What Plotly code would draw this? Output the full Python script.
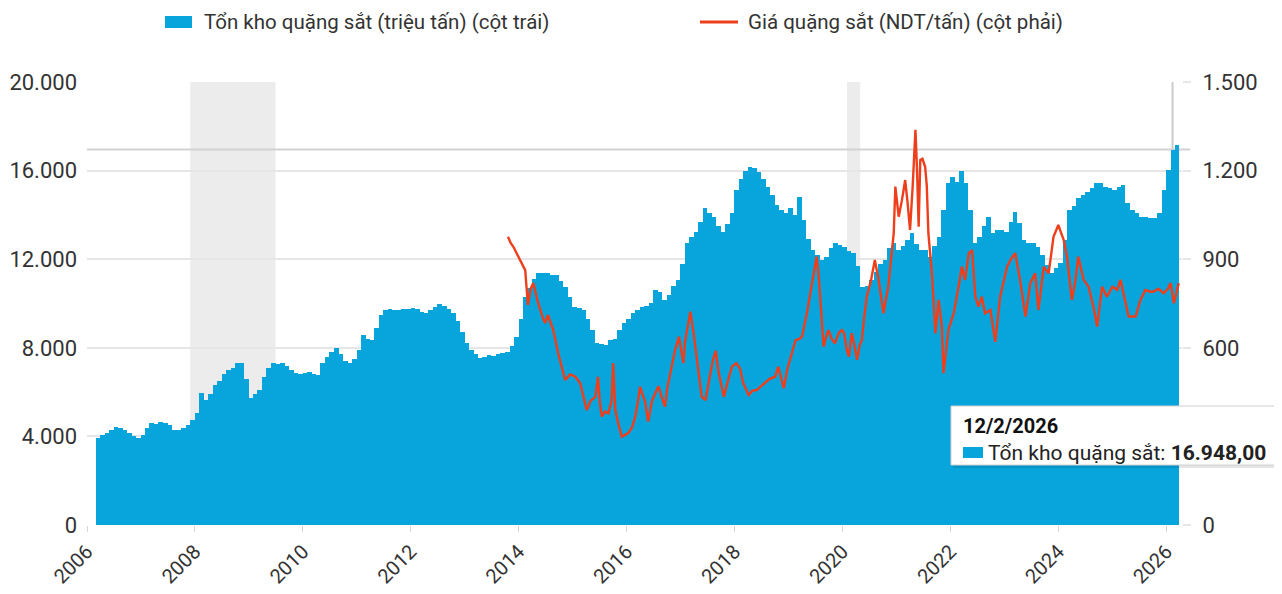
import pandas as pd
import plotly.graph_objects as go

# ---------------- DATA ----------------
# Monthly iron-ore port inventory (left axis), Mar-2006 .. Mar-2026
inv_2006 = [3950, 4050, 4150, 4300, 4440, 4400, 4300, 4150, 4000, 3930]  # Mar-Dec
inv_2007 = [4050, 4400, 4600, 4550, 4660, 4600, 4500, 4300, 4300, 4400, 4510, 4750]
inv_2008 = [5050, 5950, 5640, 5900, 6300, 6500, 6800, 7000, 7100, 7300, 7330, 6600]
inv_2009 = [5730, 5900, 6100, 6700, 7100, 7300, 7250, 7330, 7200, 7000, 6850, 6810]
inv_2010 = [6850, 6920, 6800, 6770, 7310, 7600, 7800, 7990, 7700, 7400, 7310, 7500]
inv_2011 = [7900, 8580, 8400, 8350, 8900, 9500, 9700, 9750, 9700, 9700, 9750, 9750]
inv_2012 = [9800, 9750, 9600, 9570, 9700, 9850, 9980, 9900, 9750, 9570, 9200, 8700]
inv_2013 = [8220, 7900, 7700, 7540, 7600, 7680, 7650, 7700, 7750, 7830, 8100, 8500]
inv_2014 = [9300, 10310, 10700, 11100, 11390, 11390, 11390, 11300, 11290, 11000, 10760, 10300]
inv_2015 = [9860, 9800, 9710, 9300, 8800, 8220, 8150, 8130, 8350, 8400, 8800, 9120]
inv_2016 = [9300, 9570, 9700, 9860, 9900, 10020, 10610, 10500, 10160, 10400, 10800, 11060]
inv_2017 = [11800, 12730, 13000, 13240, 13700, 14300, 14100, 13920, 13500, 13240, 13600, 14070]
inv_2018 = [15120, 15600, 16000, 16180, 16100, 15950, 15600, 15270, 14900, 14450, 14200, 14070]
inv_2019 = [14300, 14000, 14820, 13770, 12900, 12420, 12200, 11960, 12110, 12500, 12730, 12650]
inv_2020 = [12560, 12350, 12270, 11700, 10760, 10800, 11060, 11400, 11800, 11960, 12500, 12730]
inv_2021 = [12420, 12600, 12870, 13180, 12700, 12400, 12420, 12110, 12600, 13020, 14220, 15430]
inv_2022 = [15700, 15500, 16000, 15430, 14220, 12720, 13020, 13500, 13920, 13170, 13320, 13300]
inv_2023 = [13240, 13700, 14150, 13620, 12870, 12750, 12720, 12560, 12200, 11740, 11360, 11600]
inv_2024 = [11820, 12870, 14220, 14400, 14750, 14900, 15050, 15200, 15430, 15430, 15270, 15200]
inv_2025 = [15120, 15250, 15350, 14520, 14200, 14070, 13920, 13900, 13850, 13850, 14070, 15120]
inv_2026 = [16030, 16948, 17160]  # Jan-Mar

inventory = (inv_2006 + inv_2007 + inv_2008 + inv_2009 + inv_2010 + inv_2011 +
             inv_2012 + inv_2013 + inv_2014 + inv_2015 + inv_2016 + inv_2017 +
             inv_2018 + inv_2019 + inv_2020 + inv_2021 + inv_2022 + inv_2023 +
             inv_2024 + inv_2025 + inv_2026)
inv_months = pd.date_range("2006-03-01", periods=len(inventory), freq="MS") + pd.Timedelta(days=14)

# Iron-ore price (right axis, CNY/t): sample times (decimal year) and values
price_t = [2013.80, 2013.85, 2013.90, 2013.99, 2014.08, 2014.12, 2014.17, 2014.22, 2014.27, 2014.36,
           2014.45, 2014.49, 2014.54, 2014.64, 2014.73, 2014.80, 2014.86, 2014.95, 2015.05, 2015.14,
           2015.20, 2015.26, 2015.33, 2015.42, 2015.47, 2015.50, 2015.54, 2015.60, 2015.66, 2015.72,
           2015.75, 2015.79, 2015.85, 2015.91, 2015.97, 2016.03, 2016.10, 2016.16, 2016.22, 2016.25,
           2016.30, 2016.34, 2016.40, 2016.47, 2016.53, 2016.59, 2016.64, 2016.71, 2016.76, 2016.84,
           2016.90, 2016.97, 2017.02, 2017.05, 2017.08, 2017.16, 2017.18, 2017.24, 2017.30, 2017.33,
           2017.39, 2017.46, 2017.50, 2017.55, 2017.60, 2017.65, 2017.70, 2017.76, 2017.80, 2017.88,
           2017.95, 2018.03, 2018.10, 2018.16, 2018.26, 2018.33, 2018.41, 2018.49, 2018.56, 2018.65,
           2018.75, 2018.81, 2018.86, 2018.91, 2018.98, 2019.06, 2019.13, 2019.20, 2019.25, 2019.34,
           2019.43, 2019.48, 2019.52, 2019.56, 2019.59, 2019.65, 2019.70, 2019.74, 2019.80, 2019.86,
           2019.93, 2019.99, 2020.03, 2020.08, 2020.12, 2020.17, 2020.22, 2020.27, 2020.32, 2020.36,
           2020.40, 2020.45, 2020.53, 2020.60, 2020.67, 2020.72, 2020.76, 2020.80, 2020.85, 2020.90,
           2020.95, 2020.98, 2021.01, 2021.04, 2021.10, 2021.16, 2021.20, 2021.25, 2021.30, 2021.35,
           2021.38, 2021.41, 2021.44, 2021.48, 2021.53, 2021.56, 2021.59, 2021.66, 2021.72, 2021.78,
           2021.84, 2021.87, 2021.96, 2022.06, 2022.15, 2022.21, 2022.27, 2022.34, 2022.40, 2022.46,
           2022.52, 2022.58, 2022.64, 2022.74, 2022.83, 2022.92, 2023.05, 2023.12, 2023.20, 2023.29,
           2023.39, 2023.48, 2023.57, 2023.63, 2023.73, 2023.82, 2023.91, 2024.00, 2024.05, 2024.10,
           2024.16, 2024.25, 2024.31, 2024.37, 2024.47, 2024.56, 2024.65, 2024.72, 2024.81, 2024.90,
           2025.00, 2025.09, 2025.15, 2025.24, 2025.30, 2025.43, 2025.52, 2025.61, 2025.70, 2025.76,
           2025.85, 2025.95, 2026.03, 2026.08, 2026.14, 2026.23]
price_v = [976, 955, 942, 909, 880, 863, 745, 800, 819, 751,
           700, 684, 711, 660, 582, 530, 491, 510, 502, 480,
           430, 389, 420, 434, 502, 420, 367, 385, 378, 420,
           548, 389, 340, 299, 305, 311, 330, 367, 430, 468,
           440, 420, 350, 420, 446, 470, 440, 401, 470, 547,
           593, 638, 581, 548, 620, 700, 722, 649, 560, 525,
           434, 423, 470, 514, 560, 590, 520, 468, 434, 491,
           536, 548, 530, 480, 440, 455, 457, 470, 480, 495,
           502, 536, 500, 463, 530, 582, 626, 630, 638, 717,
           807, 860, 909, 840, 762, 604, 640, 660, 630, 615,
           650, 660, 650, 593, 570, 650, 610, 559, 610, 626,
           700, 773, 830, 897, 830, 770, 717, 760, 807, 900,
           988, 1146, 1080, 1044, 1100, 1168, 1100, 999, 1150, 1338,
           1200, 1010, 1236, 1240, 1213, 1150, 988, 841, 649, 762,
           672, 514, 660, 717, 807, 875, 830, 920, 931, 773,
           739, 773, 717, 728, 620, 773, 875, 900, 920, 830,
           706, 819, 852, 728, 875, 852, 976, 1016, 990, 965,
           909, 762, 820, 909, 830, 807, 739, 672, 807, 773,
           807, 796, 830, 762, 706, 706, 762, 796, 790, 790,
           800, 785, 800, 819, 751, 819]

recessions = [("2007-12-01", "2009-06-30"), ("2020-02-01", "2020-04-30")]
hover_date = "2026-02-12"
hover_label = "12/2/2026"

x_ticks = [str(y) for y in range(2006, 2027, 2)]
left_ticks = [0, 4000, 8000, 12000, 16000, 20000]
right_ticks = [0, 300, 600, 900, 1200, 1500]
right_hidden = [300]  # label covered by the tooltip in the original

inv_name = "Tổn kho quặng sắt (triệu tấn) (cột trái)"
price_name = "Giá quặng sắt (NDT/tấn) (cột phải)"
tooltip_name = "Tổn kho quặng sắt"

# ---------------- FIGURE ----------------
def dec2date(t):
    y = int(t)
    return pd.Timestamp(y, 1, 1) + pd.Timedelta(days=(t - y) * 365.25)


def fmt_vn(v, dec=0):
    s = f"{v:,.{dec}f}"
    return s.replace(",", "X").replace(".", ",").replace("X", ".")


price_dates = [dec2date(t) for t in price_t]

BLUE = "#08a4dc"
RED = "#ee3f1c"
FONT = "Roboto"
TXT = "#333333"
GRID = "#e6e6e6"

# the page body adds an 8px offset; plot area on screen is x 87..1182, y 82..525
W, H = 1282, 594
L, R, T, B = 79, 108, 74, 77
pw, ph = W - L - R, H - T - B
SX0, SY0 = 87, 525  # screen position of plot-area bottom-left


def px(x):
    return (x - SX0) / pw


def py(y):
    return (SY0 - y) / ph


fig = go.Figure()
fig.add_trace(go.Bar(
    x=inv_months, y=inventory, name=inv_name,
    marker=dict(color=BLUE, line=dict(width=0)),
    width=31 * 24 * 3600 * 1000, showlegend=False,
))
fig.add_trace(go.Scatter(
    x=price_dates, y=price_v, name=price_name, yaxis="y2",
    mode="lines", line=dict(color=RED, width=2.4), showlegend=False,
))

shapes = []
for a, b in recessions:
    shapes.append(dict(type="rect", xref="x", yref="paper", x0=a, x1=b, y0=0, y1=1,
                       fillcolor="rgba(200,200,200,0.35)", line=dict(width=0), layer="below"))
# hover crosshair
hv = inventory[list(inv_months.strftime("%Y-%m")).index(hover_date[:7])]
shapes.append(dict(type="line", xref="x", yref="paper", x0=hover_date, x1=hover_date, y0=0, y1=1,
                   line=dict(color="#cccccc", width=2), layer="below"))
shapes.append(dict(type="line", xref="paper", yref="y", x0=0, x1=px(1190), y0=hv, y1=hv,
                   line=dict(color="#d2d2d2", width=2), layer="below"))

# manual legend
LEG_Y = 22
shapes.append(dict(type="rect", xref="paper", yref="paper", x0=px(165), x1=px(192),
                   y0=py(LEG_Y + 6), y1=py(LEG_Y - 6), fillcolor=BLUE, line=dict(width=0)))
shapes.append(dict(type="line", xref="paper", yref="paper", x0=px(700), x1=px(738),
                   y0=py(LEG_Y), y1=py(LEG_Y), line=dict(color=RED, width=3)))

# tooltip box
shapes.append(dict(type="rect", xref="paper", yref="paper", x0=px(953), x1=px(1280),
                   y0=py(468), y1=py(409), fillcolor="rgba(0,0,0,0.10)", line=dict(width=0)))
shapes.append(dict(type="rect", xref="paper", yref="paper", x0=px(951), x1=px(1277),
                   y0=py(465), y1=py(406), fillcolor="white", line=dict(color="#d0d0d0", width=1)))
shapes.append(dict(type="rect", xref="paper", yref="paper", x0=px(963), x1=px(983),
                   y0=py(458), y1=py(447), fillcolor=BLUE, line=dict(width=0)))

annotations = [
    dict(xref="paper", yref="paper", x=px(202), y=py(LEG_Y), text=inv_name, showarrow=False,
         xanchor="left", yanchor="middle", font=dict(family=FONT, size=20.5, color=TXT)),
    dict(xref="paper", yref="paper", x=px(746), y=py(LEG_Y), text=price_name, showarrow=False,
         xanchor="left", yanchor="middle", font=dict(family=FONT, size=20.5, color=TXT)),
    dict(xref="paper", yref="paper", x=px(961), y=py(426), text=f"<b>{hover_label}</b>", showarrow=False,
         xanchor="left", yanchor="middle", font=dict(family=FONT, size=20, color="#111111")),
    dict(xref="paper", yref="paper", x=px(986), y=py(453),
         text=f"{tooltip_name}: <b>{fmt_vn(hv, 2)}</b>", showarrow=False,
         xanchor="left", yanchor="middle", font=dict(family=FONT, size=21, color="#222222")),
]

fig.update_layout(
    width=W, height=H,
    margin=dict(l=L, r=R, t=T, b=B, pad=0, autoexpand=False),
    paper_bgcolor="white", plot_bgcolor="white",
    separators=",.",
    bargap=0,
    font=dict(family=FONT, size=19, color=TXT),
    shapes=shapes, annotations=annotations,
    showlegend=False,
    xaxis=dict(
        type="date", range=["2006-01-01", "2026-04-17"], automargin=False,
        tickvals=[f"{y}-01-01" for y in x_ticks], ticktext=x_ticks,
        tickangle=-45, ticks="outside", ticklen=6, tickcolor="#d6d6d6",
        showgrid=False, zeroline=False, showline=False,
        tickfont=dict(family=FONT, size=20, color=TXT),
    ),
    yaxis=dict(
        range=[0, 20000], tickvals=left_ticks, ticktext=[fmt_vn(v) for v in left_ticks],
        automargin=False,
        showgrid=True, gridcolor=GRID, gridwidth=2, zeroline=False,
        ticks="", ticklabelstandoff=9,
        tickfont=dict(family=FONT, size=22, color=TXT),
    ),
    yaxis2=dict(
        range=[0, 1500], tickvals=right_ticks,
        ticktext=["" if v in right_hidden else fmt_vn(v) for v in right_ticks],
        automargin=False,
        overlaying="y", side="right", showgrid=False, zeroline=False,
        ticks="outside", ticklen=8, tickcolor=GRID, tickwidth=2, ticklabelstandoff=7,
        tickfont=dict(family=FONT, size=22, color=TXT),
    ),
)

fig.write_html("out.html")
